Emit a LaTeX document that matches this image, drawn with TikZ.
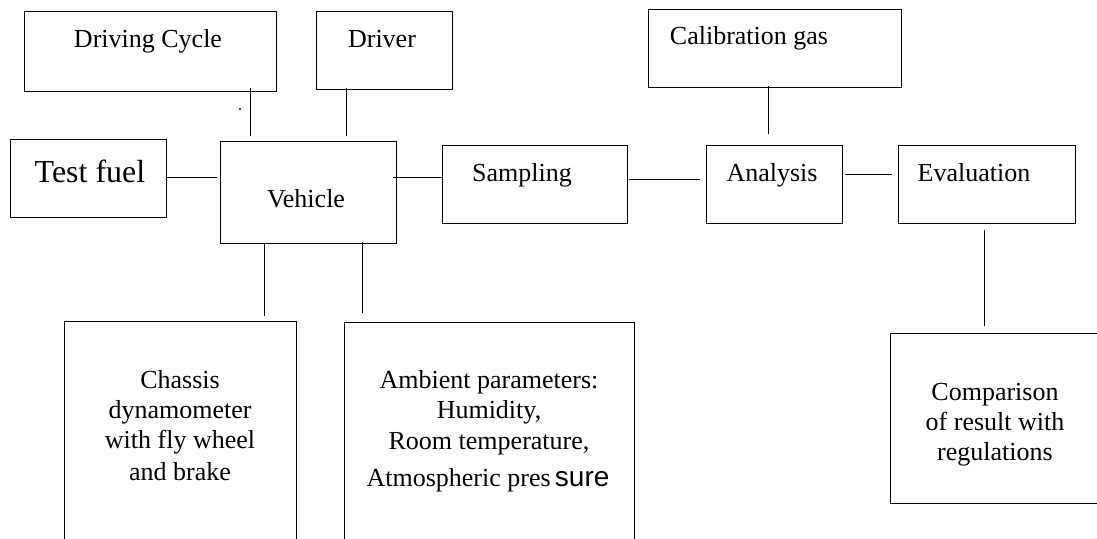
\documentclass[tikz,border=0pt]{standalone}
\usepackage{fontspec}
\setmainfont{Liberation Serif}
\newfontfamily\arialfont{Liberation Sans}
\begin{document}
\begin{tikzpicture}[x={(1pt,0)},y={(0,-1pt)},
  box/.style={draw,line width=1.3pt,rectangle,inner sep=0pt,anchor=north west},
  lbl/.style={anchor=base,inner sep=0pt,font=\fontsize{26}{30}\selectfont},
  conn/.style={line width=1.3pt}]
\useasboundingbox (0,0) rectangle (1097,538);
\clip (0,0) rectangle (1097,538);
% boxes
\node[box,minimum width=252pt,minimum height=80pt] (dc) at (24,11) {};
\node[box,minimum width=136pt,minimum height=78pt] (drv) at (316,11) {};
\node[box,minimum width=253pt,minimum height=78pt] (cal) at (648,9) {};
\node[box,minimum width=156pt,minimum height=78pt] (tf) at (10,139) {};
\node[box,minimum width=176pt,minimum height=102pt] (veh) at (220,141) {};
\node[box,minimum width=185pt,minimum height=78pt] (samp) at (442,145) {};
\node[box,minimum width=136pt,minimum height=78pt] (ana) at (706,145) {};
\node[box,minimum width=177pt,minimum height=78pt] (eval) at (898,145) {};
\node[box,minimum width=232pt,minimum height=260pt] (chas) at (64,321) {};
\node[box,minimum width=290pt,minimum height=260pt] (amb) at (344,322) {};
\node[box,minimum width=210pt,minimum height=170pt] (comp) at (890,333) {};
% labels
\node[lbl] (dct) at (148,47) {Driving Cycle};
\node[lbl] (drvt) at (382,47) {Driver};
\node[lbl] (calt) at (749,44) {Calibration gas};
\node[lbl,font=\fontsize{32}{36}\selectfont] (tft) at (90,182) {Test fuel};
\node[lbl] (veht) at (306,207) {Vehicle};
\node[lbl] (sampt) at (522,181) {Sampling};
\node[lbl] (anat) at (772,181) {Analysis};
\node[lbl] (evalt) at (974,181) {Evaluation};
\node[lbl] (ch1) at (180,388) {Chassis};
\node[lbl] (ch2) at (180,418) {dynamometer};
\node[lbl] (ch3) at (180,448) {with fly wheel};
\node[lbl] (ch4) at (180,480) {and brake};
\node[lbl] (am1) at (489,388) {Ambient parameters:};
\node[lbl] (am2) at (489,418) {Humidity,};
\node[lbl] (am3) at (489,449) {Room temperature,};
\node[lbl] (am4) at (488,486) {Atmospheric pres\,{\arialfont\fontsize{28}{32}\selectfont sure}};
\node[lbl] (co1) at (995,400) {Comparison};
\node[lbl] (co2) at (995,430) {of result with};
\node[lbl] (co3) at (995,460) {regulations};
% stray dot
\fill (240,109) circle (1.2);
% connectors
\draw[conn] ([shift={(100,-4)}]dc.south) -- ([shift={(-58,-5)}]veh.north);
\draw[conn] ([shift={(-38,-2)}]drv.south) -- ([shift={(38,-5)}]veh.north);
\draw[conn] ([shift={(0,-1)}]tf.east) -- ([shift={(-3,-15)}]veh.west);
\draw[conn] ([shift={(-4,-15)}]veh.east) -- ([shift={(0,-7)}]samp.west);
\draw[conn] ([shift={(1,-5)}]samp.east) -- ([shift={(-6,-5)}]ana.west);
\draw[conn] ([shift={(2,-10)}]ana.east) -- ([shift={(-6,-10)}]eval.west);
\draw[conn] ([shift={(-6.5,-2)}]cal.south) -- ([shift={(-6,-11)}]ana.north);
\draw[conn] ([shift={(-44,0)}]veh.south) -- ([shift={(84,-5)}]chas.north);
\draw[conn] ([shift={(54,-2)}]veh.south) -- ([shift={(-127,-9)}]amb.north);
\draw[conn] ([shift={(-2.5,6)}]eval.south) -- ([shift={(-11,-7)}]comp.north);
\end{tikzpicture}
\end{document}
